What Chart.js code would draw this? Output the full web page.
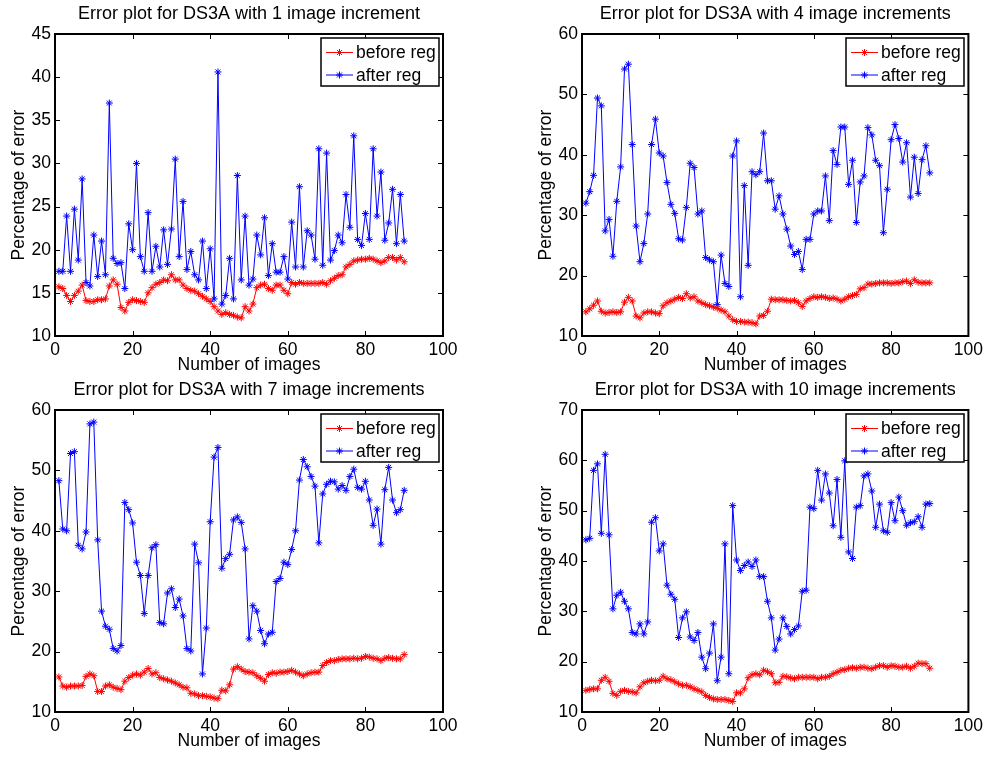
<!DOCTYPE html>
<html>
<head>
<meta charset="utf-8">
<title>Error plots for DS3A</title>
<script src="https://cdn.jsdelivr.net/npm/chart.js@4.4.0/dist/chart.umd.min.js"></script>
<style>
  body { margin: 0; background: #fff; }
  #wrap { position: relative; width: 987px; height: 758px; background: #fff; }
  #wrap canvas { position: absolute; left: 0; top: 0; }
</style>
</head>
<body>
<div id="wrap">
  <canvas id="plot1" width="987" height="758"></canvas>
  <canvas id="plot4" width="987" height="758"></canvas>
  <canvas id="plot7" width="987" height="758"></canvas>
  <canvas id="plot10" width="987" height="758"></canvas>
</div>
<script>
/* ====== Data ====== */
const imageNumbers = [
  1, 2, 3, 4, 5, 6, 7, 8, 9, 10, 11, 12, 13, 14, 15, 16, 17, 18, 19, 20,
  21, 22, 23, 24, 25, 26, 27, 28, 29, 30, 31, 32, 33, 34, 35, 36, 37, 38, 39, 40,
  41, 42, 43, 44, 45, 46, 47, 48, 49, 50, 51, 52, 53, 54, 55, 56, 57, 58, 59, 60,
  61, 62, 63, 64, 65, 66, 67, 68, 69, 70, 71, 72, 73, 74, 75, 76, 77, 78, 79, 80,
  81, 82, 83, 84, 85, 86, 87, 88, 89, 90
];
const seriesLabels = ['before reg', 'after reg'];
const xTickLabels = [0, 20, 40, 60, 80, 100];

// 1 image increment
const before1 = [
  15.7, 15.5, 14.7, 14.0, 14.7, 15.2, 15.9, 14.1, 14.0, 14.0,
  14.2, 14.2, 14.3, 15.8, 16.5, 16.0, 13.3, 12.9, 13.9, 14.2,
  14.1, 14.0, 13.9, 15.0, 15.6, 16.0, 16.2, 16.5, 16.4, 17.1,
  16.5, 16.5, 15.9, 15.5, 15.3, 15.2, 14.9, 14.6, 14.3, 14.0,
  13.4, 12.9, 12.5, 12.7, 12.5, 12.4, 12.2, 12.1, 13.4, 12.9,
  13.7, 15.6, 15.9, 16.0, 15.5, 15.3, 15.9, 15.9, 15.3, 14.9,
  16.2, 16.0, 16.2, 16.1, 16.1, 16.1, 16.1, 16.1, 16.2, 16.0,
  16.4, 16.7, 17.0, 17.1, 18.0, 18.3, 18.7, 18.8, 18.9, 18.9,
  19.0, 18.9, 18.7, 18.5, 18.7, 19.1, 19.1, 18.8, 19.1, 18.6
];
const after1 = [
  17.5, 17.5, 23.9, 17.5, 24.7, 18.8, 28.2, 16.2, 15.8, 21.7,
  16.9, 21.0, 17.1, 37.0, 19.0, 18.4, 18.5, 15.5, 23.0, 20.0,
  30.0, 19.2, 17.5, 24.3, 17.5, 20.4, 18.0, 22.3, 18.3, 22.4,
  30.5, 19.2, 25.6, 17.7, 19.8, 17.1, 16.5, 21.0, 15.5, 20.1,
  14.3, 40.6, 13.7, 14.7, 19.0, 14.3, 28.6, 16.5, 23.9, 15.9,
  16.6, 21.7, 19.4, 23.7, 17.0, 20.7, 17.4, 17.4, 19.2, 16.6,
  23.2, 18.0, 27.3, 18.0, 22.2, 21.7, 18.9, 31.7, 18.2, 31.2,
  18.8, 19.9, 21.7, 20.8, 26.4, 22.6, 33.2, 21.2, 20.5, 24.2,
  21.2, 31.7, 23.9, 29.0, 21.1, 23.1, 27.0, 20.7, 26.4, 21.0
];

// 4 image increments
const before4 = [
  14.0, 14.5, 15.1, 15.8, 14.1, 13.8, 13.9, 14.0, 13.9, 14.0,
  15.6, 16.4, 15.8, 13.3, 13.0, 13.8, 14.0, 14.0, 13.8, 13.7,
  15.0, 15.5, 15.8, 16.1, 16.4, 16.2, 17.0, 16.3, 16.5, 15.8,
  15.5, 15.2, 15.0, 14.8, 14.6, 14.3, 14.0, 13.3, 12.7, 12.4,
  12.4, 12.3, 12.3, 12.2, 12.0, 13.3, 13.4, 14.1, 16.1, 16.0,
  16.0, 16.0, 15.9, 15.8, 15.9, 15.5, 14.9, 15.8, 16.2, 16.5,
  16.4, 16.5, 16.4, 16.2, 16.3, 16.1, 15.8, 16.1, 16.5, 16.7,
  16.9, 17.8, 18.0, 18.6, 18.6, 18.7, 18.8, 18.8, 18.8, 18.7,
  18.8, 18.8, 19.0, 19.1, 18.7, 19.3, 18.9, 18.8, 18.8, 18.8
];
const after4 = [
  32.0, 33.9, 36.6, 49.4, 48.1, 27.4, 29.3, 23.2, 32.3, 38.0,
  54.2, 55.0, 41.7, 28.2, 22.3, 25.3, 30.2, 41.7, 45.9, 40.3,
  39.8, 35.4, 31.8, 30.3, 26.1, 25.9, 31.3, 38.6, 37.9, 30.2,
  30.7, 23.0, 22.6, 22.3, 15.2, 23.4, 18.7, 18.2, 39.8, 42.3,
  16.5, 34.9, 21.7, 37.2, 36.7, 37.2, 43.6, 35.7, 35.7, 31.0,
  33.2, 30.2, 27.7, 24.9, 23.5, 24.0, 21.0, 26.0, 26.0, 30.2,
  30.7, 30.7, 36.5, 29.1, 40.7, 38.4, 44.6, 44.6, 35.1, 39.1,
  28.8, 35.5, 36.5, 44.5, 43.3, 39.1, 38.2, 27.1, 34.3, 42.5,
  45.0, 42.7, 38.8, 42.0, 33.0, 39.6, 33.6, 39.2, 41.5, 37.0
];

// 7 image increments
const before7 = [
  15.8, 14.3, 14.1, 14.3, 14.3, 14.3, 14.4, 15.9, 16.3, 16.0,
  13.4, 13.4, 14.3, 14.5, 14.1, 13.9, 13.7, 15.1, 15.7, 16.1,
  16.3, 16.1, 16.6, 17.2, 16.3, 16.5, 15.7, 15.5, 15.3, 15.1,
  14.8, 14.5, 14.1, 14.0, 13.1, 13.0, 12.7, 12.7, 12.6, 12.5,
  12.3, 12.2, 13.6, 13.5, 14.5, 17.1, 17.5, 17.1, 16.7, 16.6,
  16.5, 16.0, 15.6, 15.1, 16.2, 16.5, 16.4, 16.6, 16.6, 16.7,
  16.9, 16.6, 16.3, 16.0, 16.3, 16.5, 16.6, 16.6, 17.7, 18.2,
  18.5, 18.5, 18.7, 18.8, 18.8, 18.8, 18.9, 18.8, 18.9, 19.2,
  19.1, 18.9, 18.8, 18.5, 18.9, 19.0, 18.9, 18.8, 18.8, 19.5
];
const after7 = [
  48.3, 40.3, 40.0, 52.8, 53.1, 37.6, 37.0, 39.8, 57.7, 58.0,
  38.5, 26.7, 24.2, 23.7, 20.5, 20.1, 21.0, 44.7, 43.5, 41.3,
  34.8, 32.6, 26.3, 32.6, 37.2, 37.7, 24.8, 24.6, 29.7, 30.4,
  27.3, 28.7, 25.9, 20.5, 20.1, 37.8, 34.7, 16.3, 23.9, 41.5,
  52.2, 53.8, 33.8, 35.4, 36.1, 41.8, 42.3, 41.4, 37.0, 22.1,
  27.6, 26.7, 23.5, 21.3, 22.9, 23.2, 31.6, 32.1, 34.8, 34.4,
  36.9, 40.0, 48.4, 51.8, 50.6, 49.0, 47.4, 38.0, 46.1, 47.7,
  48.2, 48.1, 46.9, 47.5, 46.7, 49.0, 50.2, 47.2, 46.9, 48.2,
  45.1, 40.9, 43.6, 37.8, 46.8, 50.5, 45.1, 43.0, 43.5, 46.7
];

// 10 image increments
const before10 = [
  14.3, 14.5, 14.6, 14.6, 16.3, 16.9, 16.1, 13.7, 13.3, 14.1,
  14.3, 14.1, 14.0, 13.8, 15.0, 15.8, 16.1, 16.3, 16.2, 16.3,
  17.1, 16.6, 16.4, 16.0, 15.6, 15.3, 15.3, 15.0, 14.6, 14.3,
  14.0, 13.3, 12.9, 12.6, 12.5, 12.5, 12.5, 12.3, 12.1, 13.8,
  13.8, 14.6, 16.8, 17.4, 17.6, 17.4, 18.3, 18.0, 17.6, 15.8,
  15.9, 17.1, 17.0, 16.8, 16.6, 16.9, 16.9, 16.9, 16.9, 16.9,
  16.6, 16.9, 16.9, 17.1, 17.6, 17.9, 18.3, 18.4, 18.7, 18.8,
  18.7, 18.9, 18.9, 18.7, 18.6, 18.9, 19.2, 19.2, 18.9, 19.2,
  19.1, 18.9, 18.9, 19.1, 18.7, 19.1, 19.7, 19.6, 19.6, 18.7
];
const after10 = [
  44.2, 44.5, 58.0, 59.3, 45.5, 61.2, 45.2, 30.5, 33.2, 33.8,
  32.0, 30.5, 25.8, 25.5, 27.5, 25.5, 27.9, 47.7, 48.6, 42.0,
  43.4, 35.2, 33.4, 32.4, 24.8, 28.7, 29.9, 24.9, 24.2, 25.8,
  20.9, 18.6, 21.7, 27.5, 16.2, 20.9, 43.4, 17.6, 51.0, 40.2,
  38.1, 39.1, 39.8, 38.9, 40.2, 36.9, 36.9, 32.0, 28.7, 22.3,
  24.5, 28.7, 27.0, 25.5, 26.4, 27.1, 34.0, 34.2, 50.7, 50.4,
  58.0, 52.1, 57.3, 53.5, 47.0, 56.2, 44.7, 59.9, 41.8, 40.5,
  50.7, 51.0, 56.9, 57.3, 53.9, 46.7, 51.3, 46.0, 45.7, 51.6,
  48.0, 52.7, 50.0, 47.1, 47.6, 47.8, 48.8, 46.7, 51.3, 51.4
];

/* ====== Chart.js setup ====== */
const FONT = '"Liberation Sans", Arial, Helvetica, sans-serif';
Chart.defaults.font.family = FONT;
Chart.defaults.color = '#000';

// MATLAB style box: frame, inward ticks on all four sides, boxed legend top right
const matlabAxes = {
  id: 'matlabAxes',
  afterDraw(chart) {
    const { ctx, chartArea: a, scales: { x, y } } = chart;
    ctx.save();
    ctx.strokeStyle = '#000';
    ctx.lineWidth = 1;
    ctx.beginPath();
    x.ticks.forEach(t => {
      const px = Math.round(x.getPixelForValue(t.value)) + 0.5;
      ctx.moveTo(px, a.bottom); ctx.lineTo(px, a.bottom - 5);
      ctx.moveTo(px, a.top); ctx.lineTo(px, a.top + 5);
    });
    y.ticks.forEach(t => {
      const py = Math.round(y.getPixelForValue(t.value)) + 0.5;
      ctx.moveTo(a.left, py); ctx.lineTo(a.left + 5, py);
      ctx.moveTo(a.right, py); ctx.lineTo(a.right - 5, py);
    });
    ctx.stroke();
    ctx.lineWidth = 2;
    ctx.strokeRect(a.left, a.top, a.right - a.left, a.bottom - a.top);

    // legend
    const w = 118, h = 48;
    const lx = Math.round(a.right - 4 - w), ly = Math.round(a.top + 4);
    ctx.fillStyle = '#fff';
    ctx.fillRect(lx, ly, w, h);
    ctx.lineWidth = 1.5;
    ctx.strokeStyle = '#000';
    ctx.strokeRect(lx, ly, w, h);
    ctx.font = '17.5px ' + FONT;
    ctx.textAlign = 'left';
    ctx.textBaseline = 'middle';
    chart.data.datasets.forEach((ds, i) => {
      const cy = ly + 14.5 + i * 22.5;
      ctx.strokeStyle = ds.borderColor;
      ctx.lineWidth = 1;
      ctx.beginPath();
      ctx.moveTo(lx + 5, cy); ctx.lineTo(lx + 32, cy);
      ctx.stroke();
      Chart.helpers.drawPoint(ctx, { pointStyle: 'star', radius: 3.5, borderWidth: 1, rotation: 0 }, lx + 18.5, cy);
      ctx.fillStyle = '#000';
      ctx.fillText(ds.label, lx + 35, cy + 1);
    });
    ctx.restore();
  }
};

function toPoints(values) {
  return values.map((v, i) => ({ x: imageNumbers[i], y: v }));
}

function makeErrorPlot(canvasId, title, before, after, yMin, yMax, yStep, plot) {
  const ctx = document.getElementById(canvasId);
  return new Chart(ctx, {
    type: 'line',
    data: {
      datasets: [
        { label: seriesLabels[0], data: toPoints(before), borderColor: '#ff0000' },
        { label: seriesLabels[1], data: toPoints(after), borderColor: '#0000ff' }
      ]
    },
    options: {
      responsive: false,
      animation: false,
      events: [],
      layout: {
        padding: { left: plot.left - 55, right: 987 - plot.right, top: plot.top - 30.8, bottom: 758 - plot.bottom - 40 }
      },
      elements: {
        line: { borderWidth: 1, tension: 0, fill: false },
        point: { pointStyle: 'star', radius: 3.5, borderWidth: 1 }
      },
      plugins: {
        legend: { display: false },
        tooltip: { enabled: false },
        title: {
          display: true, text: title, fullSize: false,
          font: { size: 18, weight: 'normal' },
          padding: { top: 0, bottom: 9.2 }
        }
      },
      scales: {
        x: {
          type: 'linear', min: 0, max: 100,
          afterFit: s => { s.height = 40; },
          afterBuildTicks: s => { s.ticks = xTickLabels.map(v => ({ value: v })); },
          grid: { display: false, drawTicks: false },
          border: { display: false },
          ticks: { padding: 4, font: { size: 17.5 }, maxRotation: 0 },
          title: { display: true, text: 'Number of images', font: { size: 17.5 }, padding: { top: 0, bottom: 0 } }
        },
        y: {
          type: 'linear', min: yMin, max: yMax,
          afterFit: s => { s.width = 55; },
          grid: { display: false, drawTicks: false },
          border: { display: false },
          ticks: { stepSize: yStep, padding: 4, font: { size: 17.5 } },
          title: { display: true, text: 'Percentage of error', font: { size: 17.5 }, padding: { top: 8.5, bottom: 0 } }
        }
      }
    },
    plugins: [matlabAxes]
  });
}

makeErrorPlot('plot1', 'Error plot for DS3A with 1 image increment', before1, after1, 10, 45, 5,
  { left: 55, top: 34, right: 443, bottom: 336 });
makeErrorPlot('plot4', 'Error plot for DS3A with 4 image increments', before4, after4, 10, 60, 10,
  { left: 582, top: 34, right: 970, bottom: 336 });
makeErrorPlot('plot7', 'Error plot for DS3A with 7 image increments', before7, after7, 10, 60, 10,
  { left: 55, top: 410, right: 443, bottom: 712 });
makeErrorPlot('plot10', 'Error plot for DS3A with 10 image increments', before10, after10, 10, 70, 10,
  { left: 582, top: 410, right: 970, bottom: 712 });
</script>
</body>
</html>
